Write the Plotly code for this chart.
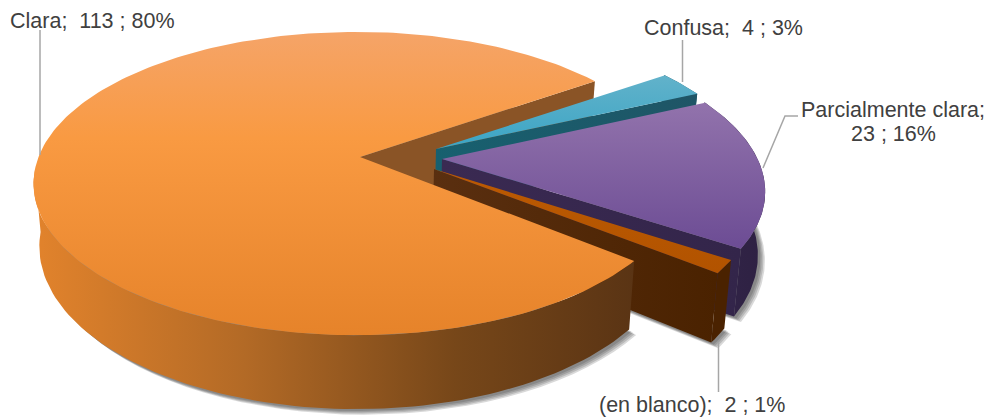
import math
import plotly.graph_objects as go

categories = ["Clara", "Confusa", "Parcialmente clara", "(en blanco)"]
values = [113, 4, 23, 2]

START_DEG = 321.0
X0, Y0, R, Q, K, H, TAPER = 357.0, 157.0, 318.0, 147.0, 0.175, 61.0, 0.018
APEX = [(360, 157), (436, 149), (442, 159), (434, 169)]
CIRCLE_CENTER = [(356.5, 157), (436, 149), (442, 158.5), (434, 169)]
RADIUS = [1.0, 0.995, 0.99, 0.975]
TOP = [
    [[0, "#F5A468"], [0.35, "#F99A42"], [1, "#E6832A"]],
    [[0, "#62B2CA"], [1, "#3BA5C5"]],
    [[0, "#9273AC"], [1, "#6C4C94"]],
    [[0, "#BC5A02"], [1, "#B25300"]],
]
RIM = [
    [[0, "#E2832C"], [0.35, "#B36A26"], [0.7, "#774719"], [1, "#5A3414"]],
    [[0, "#1F5566"], [1, "#1F5566"]],
    [[0, "#33254A"], [1, "#2E2142"]],
    [[0, "#4A2200"], [1, "#4A2200"]],
]
WALL = [
    [[0, "#8A5426"], [1, "#8A5426"]],
    [[0, "#17606F"], [1, "#1F5566"]],
    [[0, "#3A2A52"], [1, "#33254A"]],
    [[0, "#5A2F10"], [1, "#4A2200"]],
]
LABEL_POS = [(9, 21, "left"), (643, 28, "left"), (893, 110, "center"), (692, 405, "center")]
SECOND_LINE_DY = 24
LEADERS = [
    ([40, 40], [30, 155]),
    ([682.5, 682.5], [40, 82]),
    ([763, 785, 798], [168, 116, 116]),
    ([718.5, 718.5], [342, 392]),
]

total = sum(values)


def to_plane(px, py):
    yy = (Y0 - py) / Q
    plane_y = yy / (1 - K * yy)
    s = 1 / (1 + K * plane_y)
    return (px - X0) / (R * s), plane_y


def project(ox, oy, deg, z, radius=1.0):
    a = math.radians(deg)
    xp = ox + radius * math.cos(a)
    yp = oy + radius * math.sin(a)
    s = 1 / (1 + K * yp)
    x = X0 + R * xp * s
    y = Y0 - Q * yp * s + H * s * z
    x = X0 + (x - X0) * (1 - TAPER * z)
    return x, y


def arc(ox, oy, a0, a1, z, radius, n=90):
    pts = [project(ox, oy, a0 + (a1 - a0) * i / n, z, radius) for i in range(n + 1)]
    return [p[0] for p in pts], [p[1] for p in pts]


def face(xs, ys, scale, kind, name):
    if kind == "vertical":
        lo, hi = min(ys), max(ys)
    else:
        lo, hi = min(xs), max(xs)
    return go.Scatter(
        x=xs + xs[:1], y=ys + ys[:1], mode="lines", fill="toself", name=name,
        line=dict(width=0), hoverinfo="name", showlegend=False,
        fillgradient=dict(type=kind, colorscale=scale, start=lo, stop=hi),
    )


spans = []
cur = START_DEG
for v in values:
    next_a = cur - 360.0 * v / total
    spans.append((cur, next_a))
    cur = next_a

fig = go.Figure()


def add_wall(i):
    ox, oy = to_plane(*CIRCLE_CENTER[i])
    ax, ay = to_plane(*APEX[i])
    a1 = spans[i][1]
    p0 = project(ax, ay, 0, 0, 0)
    p1 = project(ox, oy, a1, 0, RADIUS[i])
    p2 = project(ox, oy, a1, 1, RADIUS[i])
    p3 = project(ax, ay, 0, 1, 0)
    fig.add_trace(face(
        [p0[0], p1[0], p2[0], p3[0]], [p0[1], p1[1], p2[1], p3[1]],
        WALL[i], "horizontal", categories[i]))


def add_rim_and_top(i, wall_between=True):
    a0, a1 = spans[i]
    ox, oy = to_plane(*CIRCLE_CENTER[i])
    axp, ayp = to_plane(*APEX[i])
    name = categories[i]
    rim_start, rim_end = (185.0, 321.0) if i == 0 else (a1, a0)
    tx, ty = arc(ox, oy, rim_start, rim_end, 0, RADIUS[i])
    bx, by = arc(ox, oy, rim_start, rim_end, 1, RADIUS[i])
    fig.add_trace(face(tx + bx[::-1], ty + by[::-1], RIM[i], "horizontal", name))
    if wall_between:
        add_wall(i)
    p0 = project(axp, ayp, 0, 0, 0)
    ax, ay = arc(ox, oy, a0, a1, 0, RADIUS[i], 240)
    fig.add_trace(face([p0[0]] + ax, [p0[1]] + ay, TOP[i], "vertical", name))


# soft shadow below the slices
for i, (a0, a1) in enumerate(spans):
    ox, oy = to_plane(*CIRCLE_CENTER[i])
    bx, by = arc(ox, oy, a0, a1, 1, RADIUS[i])
    ax, ay = project(ox, oy, 0, 1, 0)
    for off in (7, 5.5, 4, 2.5):
        fig.add_trace(go.Scatter(
            x=[ax + off] + [v + off for v in bx] + [ax + off],
            y=[ay + off] + [v + off * 0.8 for v in by] + [ay + off],
            mode="lines", fill="toself", fillcolor="rgba(30,30,30,0.17)",
            line=dict(width=0), hoverinfo="skip", showlegend=False,
        ))

# painter's order: the notch wall of the big slice lies behind the exploded slices
add_wall(0)
for i in [1, 2, 3]:
    add_rim_and_top(i)
add_rim_and_top(0, wall_between=False)

# leader lines
for lx, ly in LEADERS:
    fig.add_trace(go.Scatter(
        x=lx, y=ly, mode="lines", line=dict(color="#A6A6A6", width=1.5),
        hoverinfo="skip", showlegend=False))

# labels
FONT = dict(family="Liberation Sans, Arial, sans-serif", size=21.5, color="#404040")
for cat, v, (lx, ly, anchor) in zip(categories, values, LABEL_POS):
    pct = round(100 * v / total)
    if cat == "Parcialmente clara":
        lines = [f"{cat};", f"{v} ; {pct}%"]
    else:
        lines = [f"{cat};\u00a0 {v} ; {pct}%"]
    for j, text in enumerate(lines):
        fig.add_annotation(
            x=lx, y=ly + j * SECOND_LINE_DY, text=text, showarrow=False,
            xanchor=anchor, yanchor="middle", font=FONT, borderpad=0,
        )

fig.update_layout(
    width=987, height=418, margin=dict(l=0, r=0, t=0, b=0),
    paper_bgcolor="white", plot_bgcolor="white", showlegend=False,
    xaxis=dict(range=[0, 987], visible=False, fixedrange=True),
    yaxis=dict(range=[418, 0], visible=False, fixedrange=True),
)
fig.write_html(
    "out.html", config={"displayModeBar": False},
    post_script="document.body.style.margin='0';document.body.style.overflow='hidden';",
)
